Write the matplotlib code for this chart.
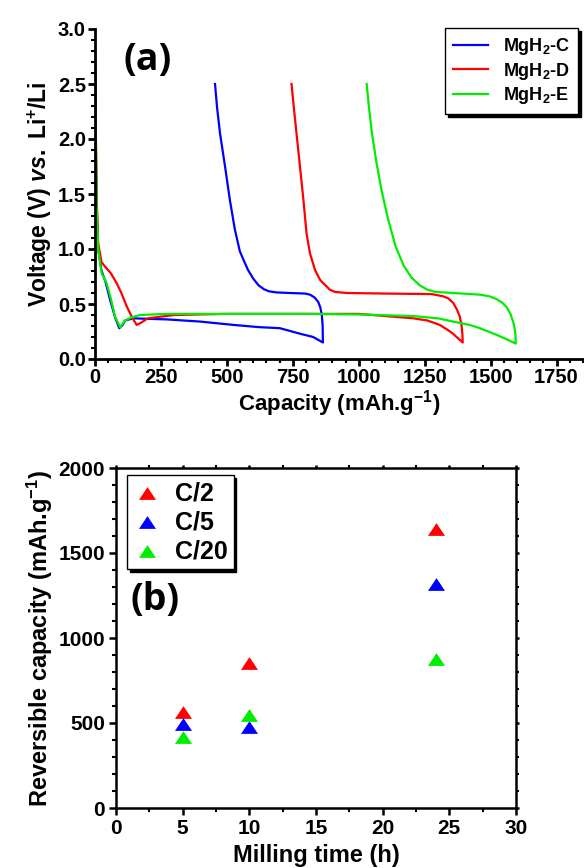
import matplotlib
matplotlib.use("Agg")
import matplotlib.pyplot as plt
from matplotlib.ticker import MultipleLocator

plt.rcParams['font.family'] = ['Liberation Sans', 'DejaVu Sans']
plt.rcParams['font.weight'] = 'bold'
plt.rcParams['mathtext.fontset'] = 'custom'
plt.rcParams['mathtext.rm'] = 'Liberation Sans:bold'
plt.rcParams['mathtext.bf'] = 'Liberation Sans:bold'
plt.rcParams['mathtext.it'] = 'Liberation Sans:bold:italic'

# ---------------- data: panel (a) ----------------
series_labels = ["MgH$_2$-C", "MgH$_2$-D", "MgH$_2$-E"]
series_colors = ["#0000ff", "#ff0000", "#00ee00"]

# MgH2-C discharge then charge (capacity mAh/g, voltage V)
c_cap = [0, 3, 6, 12, 25, 40, 57, 76, 92, 105, 114, 130, 145, 200, 272, 400, 524, 620, 701, 777, 827, 864,
         864, 863, 860, 854, 846, 832, 815, 796, 740, 690, 660, 640, 620, 600, 580, 565, 549, 530, 511, 493, 474, 463, 455]
c_v = [2.7, 2.0, 1.4, 1.0, 0.8, 0.7, 0.54, 0.38, 0.28, 0.31, 0.35, 0.36, 0.37, 0.365, 0.36, 0.34, 0.31, 0.29, 0.28, 0.23, 0.2, 0.15,
       0.15, 0.3, 0.4, 0.47, 0.52, 0.56, 0.585, 0.595, 0.6, 0.605, 0.615, 0.635, 0.67, 0.73, 0.81, 0.89, 0.98, 1.18, 1.45, 1.75, 2.05, 2.28, 2.5]

# MgH2-D
d_cap = [0, 3, 6, 12, 25, 38, 60, 82, 100, 120, 140, 158, 175, 200, 300, 500, 800, 1000, 1206, 1260, 1307, 1340, 1357, 1380, 1394,
         1394, 1393, 1390, 1383, 1372, 1358, 1340, 1320, 1276, 1100, 954, 910, 890, 878, 865, 853, 834, 815, 802, 790, 777, 764, 754, 745]
d_v = [2.8, 2.1, 1.5, 1.05, 0.88, 0.84, 0.78, 0.69, 0.6, 0.48, 0.38, 0.31, 0.33, 0.37, 0.4, 0.41, 0.41, 0.41, 0.37, 0.35, 0.31, 0.26, 0.23, 0.18, 0.15,
       0.15, 0.22, 0.3, 0.385, 0.45, 0.51, 0.55, 0.57, 0.59, 0.595, 0.6, 0.61, 0.63, 0.66, 0.69, 0.72, 0.81, 0.96, 1.14, 1.45, 1.75, 2.05, 2.28, 2.5]

# MgH2-E
e_cap = [0, 3, 6, 12, 25, 44, 60, 76, 95, 105, 114, 140, 171, 272, 500, 800, 1000, 1206, 1300, 1358, 1420, 1459, 1522, 1560, 1595,
         1595, 1594, 1590, 1585, 1575, 1561, 1545, 1522, 1495, 1459, 1358, 1290, 1260, 1231, 1200, 1170, 1140, 1110, 1085, 1066, 1050, 1038, 1030]
e_v = [2.7, 2.0, 1.4, 1.0, 0.78, 0.69, 0.55, 0.385, 0.29, 0.32, 0.35, 0.38, 0.4, 0.41, 0.41, 0.41, 0.405, 0.39, 0.37, 0.34, 0.31, 0.28, 0.22, 0.18, 0.14,
       0.14, 0.22, 0.29, 0.34, 0.41, 0.47, 0.51, 0.545, 0.57, 0.585, 0.6, 0.61, 0.63, 0.67, 0.74, 0.85, 1.02, 1.28, 1.55, 1.8, 2.05, 2.3, 2.5]

# ---------------- data: panel (b) ----------------
milling_time = [5, 10, 24]
rate_labels = ["C/2", "C/5", "C/20"]
rate_colors = ["#ff0000", "#0000ff", "#00ee00"]
cap_c2 = [565, 855, 1640]
cap_c5 = [492, 475, 1315]
cap_c20 = [420, 546, 876]

WIDE_TRI = [(-1.0, -0.75), (1.0, -0.75), (0.0, 0.75), (-1.0, -0.75)]

fig = plt.figure(figsize=(5.84, 8.68), dpi=100)

# ---------- panel (a) ----------
ax1 = fig.add_axes([95 / 584, 1 - 359 / 868, 488 / 584, 330 / 868])
for cap, v, lab, col in zip([c_cap, d_cap, e_cap], [c_v, d_v, e_v], series_labels, series_colors):
    ax1.plot(cap, v, color=col, lw=1.6, label=lab, solid_joinstyle='round')
ax1.set_xlim(0, 1850)
ax1.set_ylim(0, 3.0)
ax1.spines['top'].set_visible(False)
ax1.spines['right'].set_visible(False)
for s in ['left', 'bottom']:
    ax1.spines[s].set_linewidth(2)
ax1.set_xticks([0, 250, 500, 750, 1000, 1250, 1500, 1750])
ax1.xaxis.set_minor_locator(MultipleLocator(50))
ax1.yaxis.set_major_locator(MultipleLocator(0.5))
ax1.yaxis.set_minor_locator(MultipleLocator(0.1))
ax1.tick_params(which='major', direction='out', length=5, width=2, labelsize=14.5, pad=1.5)
ax1.tick_params(which='minor', direction='out', length=3, width=1.5)
for t in ax1.get_xticklabels() + ax1.get_yticklabels():
    t.set_fontweight('bold')
ax1.set_xlabel("Capacity (mAh.g$^{-1}$)", fontsize=16, fontweight='bold', labelpad=1)
ax1.set_ylabel("Voltage (V) $\\it{vs.}$ Li$^{+}$/Li", fontsize=16.5, fontweight='bold', labelpad=3)
ax1.text(0.107, 0.906, "(a)", transform=ax1.transAxes, fontsize=27, fontweight='bold',
         family=['Open Sans', 'DejaVu Sans'], va='center', ha='center')
leg1 = ax1.legend(loc='upper right', bbox_to_anchor=(0.99, 1.003), borderaxespad=0, frameon=True, fancybox=False,
                  shadow={'color': 'black', 'alpha': 1}, fontsize=13, handlelength=1.95, labelspacing=0.2,
                  borderpad=0.45, handletextpad=0.8)
leg1.get_frame().set_edgecolor('black')
leg1.get_frame().set_linewidth(1)
for t in leg1.get_texts():
    t.set_fontweight('bold')

# ---------- panel (b) ----------
ax2 = fig.add_axes([116 / 584, 1 - 808 / 868, 400 / 584, 340 / 868])
for vals, lab, col in zip([cap_c2, cap_c5, cap_c20], rate_labels, rate_colors):
    ax2.scatter(milling_time, vals, marker=WIDE_TRI, s=150, color=col, label=lab, zorder=3, linewidths=0)
ax2.set_xlim(0, 30)
ax2.set_ylim(0, 2000)
for s in ax2.spines.values():
    s.set_linewidth(1.8)
ax2.xaxis.set_major_locator(MultipleLocator(5))
ax2.xaxis.set_minor_locator(MultipleLocator(2.5))
ax2.yaxis.set_major_locator(MultipleLocator(500))
ax2.yaxis.set_minor_locator(MultipleLocator(100))
ax2.tick_params(which='major', direction='out', length=5, width=1.8, labelsize=15, pad=3)
ax2.tick_params(which='minor', direction='out', length=3, width=1.5)
ax2.tick_params(which='both', top=True, right=True, labeltop=False, labelright=False)
ax2.tick_params(axis='x', which='both', top=True)
for t in ax2.get_xticklabels() + ax2.get_yticklabels():
    t.set_fontweight('bold')
# subtle ticks on the top and right spines
for tk in ax2.xaxis.get_major_ticks() + ax2.xaxis.get_minor_ticks():
    tk.tick2line.set_markersize(2)
    tk.tick2line.set_color('#888888')
for tk in ax2.yaxis.get_major_ticks() + ax2.yaxis.get_minor_ticks():
    tk.tick2line.set_markersize(2)
ax2.set_xlabel("Milling time (h)", fontsize=17, fontweight='bold', labelpad=4)
ax2.set_ylabel("Reversible capacity (mAh.g$^{-1}$)", fontsize=17, fontweight='bold', labelpad=2)
ax2.text(0.0975, 0.612, "(b)", transform=ax2.transAxes, fontsize=27, fontweight='bold',
         family=['Open Sans', 'DejaVu Sans'], va='center', ha='center')
leg2 = ax2.legend(loc='upper left', bbox_to_anchor=(0.0275, 0.98), borderaxespad=0, frameon=True, fancybox=False,
                  shadow={'color': 'black', 'alpha': 1}, handlelength=1.1, labelspacing=0.2,
                  borderpad=0.25, handletextpad=0.55, markerscale=1.0,
                  prop={'weight': 'bold', 'size': 18})
leg2.get_frame().set_edgecolor('black')
leg2.get_frame().set_linewidth(1)

fig.savefig("out.png", dpi=100)
